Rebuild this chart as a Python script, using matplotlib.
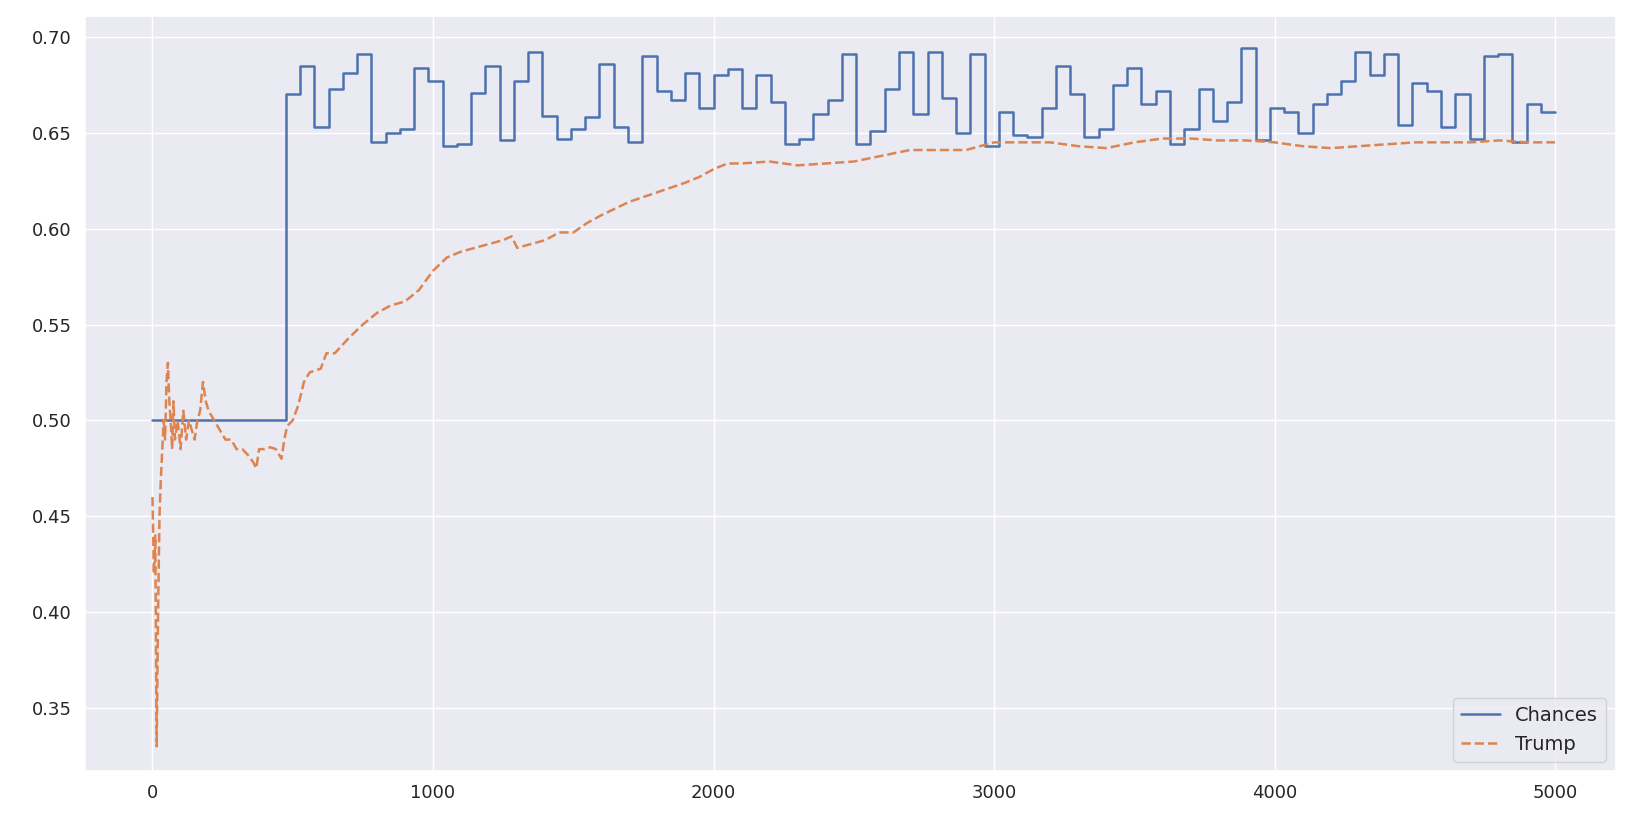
import numpy as np
import matplotlib
matplotlib.use("Agg")
import matplotlib.pyplot as plt
import seaborn as sns

sns.set_theme(style="darkgrid")

chance_start = 475
chance_end = 5000
chance_initial = 0.50
chance_steps = [
    0.670, 0.685, 0.653, 0.673, 0.681, 0.691, 0.645, 0.650, 0.652, 0.684,
    0.677, 0.643, 0.644, 0.671, 0.685, 0.646, 0.677, 0.692, 0.659, 0.647,
    0.652, 0.658, 0.686, 0.653, 0.645, 0.690, 0.672, 0.667, 0.681, 0.663,
    0.680, 0.683, 0.663, 0.680, 0.666, 0.644, 0.647, 0.660, 0.667, 0.691,
    0.644, 0.651, 0.673,
    0.692, 0.660, 0.692, 0.668, 0.650, 0.691, 0.643, 0.661, 0.649, 0.648,
    0.663, 0.685, 0.670, 0.648, 0.652, 0.675, 0.684, 0.665, 0.672, 0.644,
    0.652, 0.673, 0.656, 0.666, 0.694, 0.646, 0.663, 0.661, 0.650, 0.665,
    0.670, 0.677, 0.692, 0.680, 0.691, 0.654, 0.676, 0.672, 0.653, 0.670,
    0.647, 0.690, 0.691, 0.645, 0.665, 0.661,
]

trump_x = [0, 5, 10, 15, 20, 25, 30, 40, 45, 50, 55, 60, 65, 70, 75, 80, 90, 100, 110,
           120, 130, 140, 150, 160, 170, 180, 190, 200, 220, 240, 260, 280, 300, 320,
           340, 360, 370, 380, 400, 420, 440, 460, 470, 480, 500, 520, 540, 560, 600,
           620, 650, 700, 750, 800, 850, 900, 950, 1000, 1050, 1100, 1150, 1200, 1250,
           1280, 1300, 1350, 1400, 1450, 1500, 1550, 1600, 1700, 1800, 1900, 1950,
           2000, 2050, 2100, 2200, 2300, 2400, 2500, 2600, 2700, 2800, 2900, 3000,
           3100, 3200, 3300, 3400, 3500, 3600, 3700, 3800, 3900, 4000, 4100, 4200,
           4300, 4400, 4500, 4600, 4700, 4800, 4900, 5000]
trump_y = [0.46, 0.42, 0.44, 0.33, 0.40, 0.45, 0.47, 0.50, 0.49, 0.52, 0.53, 0.51, 0.50,
           0.485, 0.51, 0.49, 0.50, 0.485, 0.505, 0.49, 0.50, 0.495, 0.49, 0.50, 0.505,
           0.52, 0.51, 0.505, 0.50, 0.495, 0.49, 0.49, 0.485, 0.485, 0.482, 0.478, 0.475,
           0.485, 0.485, 0.486, 0.485, 0.48, 0.49, 0.497, 0.50, 0.508, 0.52, 0.525,
           0.527, 0.535, 0.535, 0.543, 0.55, 0.556, 0.56, 0.562, 0.568, 0.578, 0.585,
           0.588, 0.59, 0.592, 0.594, 0.596, 0.59, 0.592, 0.594, 0.598, 0.598, 0.603,
           0.607, 0.614, 0.619, 0.624, 0.627, 0.631, 0.634, 0.634, 0.635, 0.633, 0.634,
           0.635, 0.638, 0.641, 0.641, 0.641, 0.645, 0.645, 0.645, 0.643, 0.642, 0.645,
           0.647, 0.647, 0.646, 0.646, 0.645, 0.643, 0.642, 0.643, 0.644, 0.645, 0.645,
           0.645, 0.646, 0.645, 0.645]

edges = np.linspace(chance_start, chance_end, len(chance_steps) + 1)
cx = np.concatenate([[0], edges])
cy = np.concatenate([[chance_initial], chance_steps, [chance_steps[-1]]])

fig = plt.figure(figsize=(16.32, 8.32), dpi=100)
ax = fig.add_axes([0.052, 0.073, 0.938, 0.908])
ax.step(cx, cy, where="post", color="#4c72b0", lw=1.8, label="Chances")
ax.plot(trump_x, trump_y, color="#dd8452", lw=1.8, ls="--", label="Trump")
ax.set_xlim(-241, 5216)
ax.set_ylim(0.317, 0.711)
ax.set_yticks([0.35, 0.40, 0.45, 0.50, 0.55, 0.60, 0.65, 0.70])
ax.set_yticklabels([f"{v:.2f}" for v in ax.get_yticks()])
ax.tick_params(labelsize=13)
ax.legend(loc="lower right", fontsize=14)
fig.savefig("out.png", dpi=100)
